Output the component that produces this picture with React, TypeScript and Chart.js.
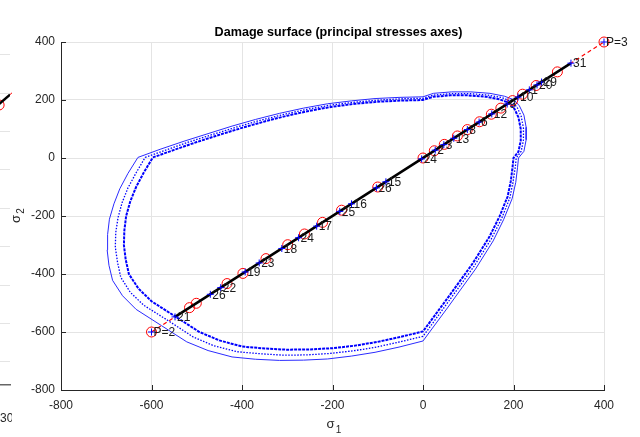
import React, { useEffect, useRef } from "react";
import { Chart, registerables } from "chart.js";
Chart.register(...registerables);

const FONT = "'Liberation Sans', Arial, Helvetica, sans-serif";
const TITLE = "Damage surface (principal stresses axes)";

// Axis ticks (both axes)
const tickValues = [-800, -600, -400, -200, 0, 200, 400];

// Damage surfaces (three nested contours)
const innerX = [-597,-550,-500,-450,-400,-350,-300,-250,-200,-150,-100,-50,0,22,60,100,140,170,190,202,211,216,216,211,200,198,194,187,169,147,110,80,51,25,0,-50,-100,-150,-200,-250,-300,-350,-400,-450,-494,-547,-600,-629,-650,-657,-661,-660,-656,-647,-634,-617,-597];
const innerY = [2,28,55,80,104,126,146,163,177,187,194,198,200,211,216,216,211,202,190,170,140,100,60,22,0,-30,-80,-133,-202,-271,-363,-428,-490,-545,-598,-617,-634,-647,-656,-660,-661,-657,-650,-629,-600,-547,-494,-450,-400,-350,-300,-250,-200,-150,-100,-50,2];
const middleX = [-614,-565,-514,-463,-411,-360,-308,-257,-206,-154,-103,-51,0,23,62,103,144,175,195,208,217,222,222,217,206,204,199,192,174,151,113,82,52,26,0,-51,-103,-154,-206,-257,-308,-360,-411,-463,-508,-562,-617,-647,-668,-675,-680,-679,-674,-665,-652,-634,-614];
const middleY = [2,29,57,82,107,130,150,168,182,192,199,204,206,217,222,222,217,208,195,175,144,103,62,23,0,-31,-82,-137,-208,-279,-373,-440,-504,-560,-615,-634,-652,-665,-674,-679,-680,-675,-668,-647,-617,-562,-508,-463,-411,-360,-308,-257,-206,-154,-103,-51,2];
const outerX = [-630,-581,-528,-475,-422,-370,-317,-264,-211,-158,-106,-53,0,23,63,106,148,180,201,213,223,228,228,223,211,209,205,197,178,155,116,84,54,26,0,-53,-106,-158,-211,-264,-317,-370,-422,-475,-522,-578,-634,-664,-686,-694,-698,-697,-693,-683,-670,-652,-630];
const outerY = [2,30,58,84,110,133,154,172,187,197,205,209,211,223,228,228,223,213,201,180,148,106,63,23,0,-32,-84,-140,-213,-286,-383,-452,-517,-576,-631,-652,-670,-683,-693,-697,-698,-694,-686,-664,-634,-578,-522,-475,-422,-370,-317,-264,-211,-158,-106,-53,2];

// Loading path along sigma1 = sigma2 (values are the common coordinate)
const dashedEnds = [-600, 400];
const blackEnds = [-548, 327];
const circleS = [-600,-516,-501,-433,-398,-347,-299,-262,-222,-180,-100,0,25,47,76,98,125,151,172,198,220,250,297,400];
const markS = [-600,-548,-470,-447,-393,-362,-312,-275,-235,-184,-158,-103,-82,-3,27,46,68,98,124,152,186,210,235,252,262,327,400];
const labelS = [-600,-548,-470,-447,-393,-362,-312,-275,-235,-184,-158,-103,-82,-3,27,46,68,98,124,152,186,210,235,252,262,327,400];
const labelText = ["P=2","21","26","22","19","23","18","24","17","25","16","26","15","24","2","3","13","8","6","12","9","10","1","20","29","31","P=3"];

// Cut-off neighbouring subplot on the left edge
const stripLineX = [250, 300];
const stripLineY = [5.94, 6.96];
const stripDashX = [300, 330];
const stripDashY = [6.96, 7.6];
const stripCircleX = [288];
const stripCircleY = [6.69];

const pts = (xs: number[], ys: number[]) => xs.map((x, i) => ({ x, y: ys[i] }));
const diag = (s: number[]) => s.map((v) => ({ x: v, y: v }));

const overlayPlugin = {
  id: "overlay",
  afterDatasetsDraw(chart: any) {
    const { ctx, chartArea, scales } = chart;
    const xs = scales.x, ys = scales.y;
    ctx.save();
    // inward ticks
    ctx.strokeStyle = "#262626";
    ctx.lineWidth = 1;
    tickValues.forEach((v) => {
      const px = Math.round(xs.getPixelForValue(v)) + 0.5;
      ctx.beginPath();
      ctx.moveTo(px, chartArea.bottom);
      ctx.lineTo(px, chartArea.bottom - 5);
      ctx.stroke();
      const py = Math.round(ys.getPixelForValue(v)) + 0.5;
      ctx.beginPath();
      ctx.moveTo(chartArea.left, py);
      ctx.lineTo(chartArea.left + 5, py);
      ctx.stroke();
    });
    // point labels
    ctx.fillStyle = "#1a1a1a";
    ctx.font = `12px ${FONT}`;
    ctx.textAlign = "left";
    ctx.textBaseline = "middle";
    labelS.forEach((s, i) => {
      ctx.fillText(labelText[i], xs.getPixelForValue(s) + 2, ys.getPixelForValue(s) + 1);
    });
    // title
    ctx.fillStyle = "#000000";
    ctx.textAlign = "center";
    ctx.font = `bold 12.6px ${FONT}`;
    ctx.fillText(TITLE, (chartArea.left + chartArea.right) / 2 + 6, 33);
    // axis titles
    ctx.fillStyle = "#262626";
    const cx = (chartArea.left + chartArea.right) / 2;
    ctx.font = `13px ${FONT}`;
    ctx.fillText("σ", cx - 2, 424);
    ctx.font = `10px ${FONT}`;
    ctx.fillText("1", cx + 6, 430);
    const cy = (chartArea.top + chartArea.bottom) / 2;
    ctx.translate(16, cy);
    ctx.rotate(-Math.PI / 2);
    ctx.font = `13px ${FONT}`;
    ctx.fillText("σ", -3, 0);
    ctx.font = `10px ${FONT}`;
    ctx.fillText("2", 5, 5);
    ctx.restore();
  },
};

export default function App() {
  const mainRef = useRef<HTMLCanvasElement>(null);
  const stripRef = useRef<HTMLCanvasElement>(null);

  useEffect(() => {
    const tickFont = { family: FONT, size: 12 };
    const main = new Chart(mainRef.current!, {
      type: "scatter",
      data: {
        datasets: [
          { data: diag(markS), showLine: false, pointStyle: "cross", pointRadius: 3.5, borderColor: "#0000ff", borderWidth: 1, clip: false } as any,
          { data: diag(blackEnds), showLine: true, borderColor: "#000000", borderWidth: 2.5, pointRadius: 0 },
          { data: diag(circleS), showLine: false, pointStyle: "circle", pointRadius: 5, borderColor: "#ff0000", backgroundColor: "rgba(0,0,0,0)", borderWidth: 1, clip: false } as any,
          { data: diag(dashedEnds), showLine: true, borderColor: "#ff0000", borderDash: [4, 3], borderWidth: 1.2, pointRadius: 0 },
          { data: pts(innerX, innerY), showLine: true, borderColor: "#0000ff", borderWidth: 2, borderDash: [3, 1], pointRadius: 0, tension: 0 },
          { data: pts(middleX, middleY), showLine: true, borderColor: "#0000ff", borderWidth: 1.3, borderDash: [1.5, 1.5], pointRadius: 0, tension: 0 },
          { data: pts(outerX, outerY), showLine: true, borderColor: "#2b2bff", borderWidth: 1, pointRadius: 0, tension: 0 },
        ],
      },
      options: {
        animation: false,
        responsive: false,
        maintainAspectRatio: false,
        layout: { padding: { left: 0, right: 36, top: 42, bottom: 0 } },
        plugins: {
          legend: { display: false },
          tooltip: { enabled: false },
          title: { display: false },
        },
        scales: {
          x: {
            type: "linear",
            min: tickValues[0],
            max: tickValues[tickValues.length - 1],
            ticks: { stepSize: 200, font: tickFont, color: "#262626", padding: 8, maxRotation: 0 },
            grid: { color: "#e4e4e4", drawTicks: false },
            border: { color: "#262626", width: 1 },
            afterFit: (s: any) => { s.height = 47; },
          },
          y: {
            type: "linear",
            min: tickValues[0],
            max: tickValues[tickValues.length - 1],
            ticks: { stepSize: 200, font: tickFont, color: "#262626", padding: 6 },
            grid: { color: "#e4e4e4", drawTicks: false },
            border: { color: "#262626", width: 1 },
            afterFit: (s: any) => { s.width = 61; },
          },
        },
      } as any,
      plugins: [overlayPlugin],
    });

    const strip = new Chart(stripRef.current!, {
      type: "scatter",
      data: {
        datasets: [
          { data: pts(stripLineX, stripLineY), showLine: true, borderColor: "#000000", borderWidth: 2.5, pointRadius: 0 },
          { data: pts(stripCircleX, stripCircleY), pointRadius: 5, borderColor: "#ff0000", backgroundColor: "rgba(0,0,0,0)", borderWidth: 1 },
          { data: pts(stripDashX, stripDashY), showLine: true, borderColor: "#ff0000", borderDash: [3, 3], borderWidth: 1, pointRadius: 0, clip: false } as any,
        ],
      },
      options: {
        animation: false,
        responsive: false,
        maintainAspectRatio: false,
        layout: { padding: { left: 0, right: 22, top: 42, bottom: 0 } },
        plugins: { legend: { display: false }, tooltip: { enabled: false } },
        scales: {
          x: {
            type: "linear",
            min: 0,
            max: 300,
            ticks: { stepSize: 100, font: tickFont, color: "#262626", padding: 18, maxRotation: 0 },
            grid: { display: false },
            border: { color: "#666666", width: 1.5 },
            afterFit: (s: any) => { s.height = 52; s.paddingLeft = 0; s.paddingRight = 0; },
          },
          y: {
            type: "linear",
            min: -0.6,
            max: 8.33,
            ticks: { display: false, stepSize: 1, includeBounds: false },
            grid: { color: "#e4e4e4", drawTicks: false },
            border: { display: false },
            afterFit: (s: any) => { s.width = 0; s.paddingTop = 0; s.paddingBottom = 0; },
          },
        },
      } as any,
    });

    return () => {
      main.destroy();
      strip.destroy();
    };
  }, []);

  return (
    <div style={{ position: "fixed", left: 0, top: 0, width: 640, height: 437, background: "#ffffff" }}>
      <div style={{ position: "absolute", left: 0, top: 0, width: 12, height: 437, overflow: "hidden" }}>
        <canvas ref={stripRef} width={300} height={437} style={{ position: "absolute", left: -268, top: 0, width: 300, height: 437 }} />
      </div>
      <canvas ref={mainRef} width={640} height={437} style={{ position: "absolute", left: 0, top: 0, width: 640, height: 437 }} />
    </div>
  );
}
